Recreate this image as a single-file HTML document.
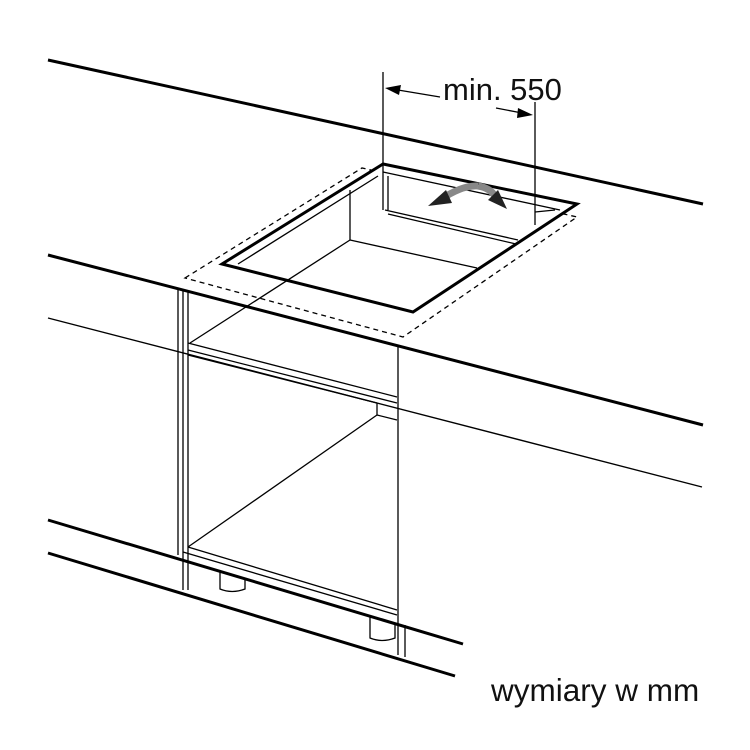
<!DOCTYPE html>
<html><head><style>html,body{margin:0;padding:0;background:#fff}svg{display:block}</style></head>
<body>
<svg width="750" height="750" viewBox="0 0 750 750" xmlns="http://www.w3.org/2000/svg">
<g fill="none" stroke="#000" stroke-linecap="butt">
<line x1="48" y1="60" x2="703" y2="204" stroke-width="3"/>
<line x1="48" y1="255" x2="703" y2="425" stroke-width="3"/>
<line x1="48" y1="318" x2="702" y2="487" stroke-width="1.4"/>
<line x1="48" y1="520" x2="463" y2="644" stroke-width="3"/>
<line x1="48" y1="553" x2="455" y2="676" stroke-width="3"/>
<polygon points="185,278 362,168 577,217 403,337" stroke-width="1.3" stroke-dasharray="5,4"/>
<polygon points="222,264 383,164 577,204 413,312" stroke-width="3" fill="#fff"/>
<line x1="238" y1="264" x2="378" y2="176" stroke-width="1.3"/>
<line x1="383" y1="172" x2="560" y2="210" stroke-width="1.3"/>
<line x1="350" y1="190" x2="350" y2="240" stroke-width="1.3"/>
<line x1="350" y1="240" x2="477" y2="268" stroke-width="1.3"/>
<line x1="350" y1="240" x2="190" y2="343" stroke-width="1.3"/>
<line x1="385" y1="210" x2="518" y2="240" stroke-width="1.3"/>
<line x1="388" y1="214" x2="516" y2="244" stroke-width="1.3"/>
<line x1="388" y1="176" x2="388" y2="210" stroke-width="1.3"/>
<line x1="535" y1="212" x2="555" y2="210" stroke-width="1.3"/>
<line x1="383" y1="72" x2="383" y2="210" stroke-width="1.3"/>
<line x1="535" y1="102" x2="535" y2="225" stroke-width="1.3"/>
<line x1="398" y1="90" x2="440" y2="97" stroke-width="1.3"/>
<polygon points="385,88 401,85 399,95" fill="#000" stroke="none"/>
<line x1="496" y1="108" x2="522" y2="113" stroke-width="1.3"/>
<polygon points="533,115 518,108 517,118" fill="#000" stroke="none"/>
<path d="M440,200 Q462,185 478,186" stroke="#888" stroke-width="7"/>
<path d="M478,186 Q490,188 495,196" stroke="#888" stroke-width="7"/>
<polygon points="428,206 446,190 452,203" fill="#222" stroke="none"/>
<polygon points="488,200 498,190 507,209" fill="#222" stroke="none"/>
<line x1="178" y1="288" x2="178" y2="555" stroke-width="1.3"/>
<line x1="183" y1="290" x2="183" y2="590" stroke-width="1.3"/>
<line x1="188" y1="291" x2="188" y2="590" stroke-width="1.3"/>
<line x1="398" y1="345" x2="398" y2="655" stroke-width="1.3"/>
<line x1="405" y1="625" x2="405" y2="657" stroke-width="1.3"/>
<line x1="188" y1="343" x2="397" y2="397" stroke-width="1.3"/>
<line x1="188" y1="350" x2="397" y2="403" stroke-width="1.3"/>
<line x1="188" y1="355" x2="377" y2="403" stroke-width="1.3"/>
<line x1="377" y1="403" x2="377" y2="415" stroke-width="1.3"/>
<line x1="377" y1="415" x2="397" y2="420" stroke-width="1.3"/>
<line x1="377" y1="415" x2="188" y2="547" stroke-width="1.3"/>
<line x1="188" y1="547" x2="397" y2="610" stroke-width="1.3"/>
<line x1="183" y1="552" x2="397" y2="615" stroke-width="1.3"/>
<path d="M220,570 L220,589 Q232,594 245,589 L245,578" stroke-width="1.3"/>
<path d="M370,617 L370,638 Q382,643 395,638 L395,623" stroke-width="1.3"/>
</g>
<text x="443" y="100" font-family="Liberation Sans, sans-serif" font-size="31" fill="#111">min. 550</text>
<text x="491" y="701" font-family="Liberation Sans, sans-serif" font-size="31.5" fill="#111">wymiary w mm</text>
</svg>
</body></html>
